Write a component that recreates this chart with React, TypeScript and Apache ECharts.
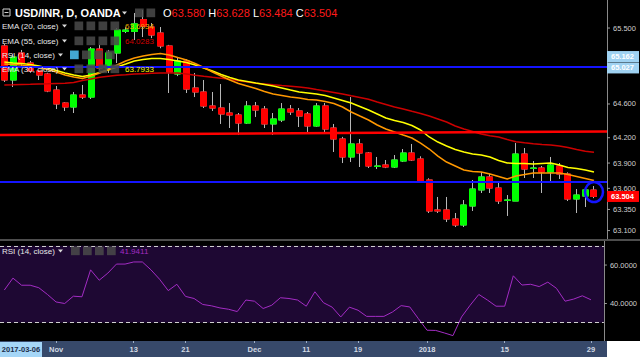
import React, { useEffect, useRef } from 'react';
import * as echarts from 'echarts';

const dates = [
  '2017-10-24', '2017-10-25', '2017-10-26', '2017-10-27', '2017-10-30', '2017-10-31', '2017-11-01', '2017-11-02', '2017-11-03', '2017-11-05',
  '2017-11-06', '2017-11-07', '2017-11-08', '2017-11-09', '2017-11-10', '2017-11-13', '2017-11-14', '2017-11-15', '2017-11-16', '2017-11-17',
  '2017-11-20', '2017-11-21', '2017-11-22', '2017-11-23', '2017-11-24', '2017-11-27', '2017-11-28', '2017-11-29', '2017-11-30', '2017-12-01',
  '2017-12-04', '2017-12-05', '2017-12-06', '2017-12-07', '2017-12-08', '2017-12-11', '2017-12-12', '2017-12-13', '2017-12-14', '2017-12-15',
  '2017-12-18', '2017-12-19', '2017-12-20', '2017-12-21', '2017-12-22', '2017-12-26', '2017-12-27', '2017-12-28', '2017-12-29', '2018-01-02',
  '2018-01-03', '2018-01-04', '2018-01-05', '2018-01-08', '2018-01-09', '2018-01-10', '2018-01-11', '2018-01-12', '2018-01-15', '2018-01-16',
  '2018-01-17', '2018-01-18', '2018-01-19', '2018-01-22', '2018-01-23', '2018-01-24', '2018-01-25', '2018-01-26', '2018-01-29', '2018-01-30',
];

const opens = [
  65.287, 64.884, 65.204, 65.085, 64.991, 64.955, 64.765, 64.611, 64.564, 64.706,
  64.682, 65.251, 65.026, 65.204, 65.46, 65.46, 65.6, 65.512, 65.441, 65.287,
  64.955, 65.109, 64.789, 64.742, 64.576, 64.552, 64.493, 64.469, 64.374, 64.576,
  64.54, 64.363, 64.41, 64.54, 64.517, 64.481, 64.339, 64.576, 64.315, 64.185,
  63.972, 64.126, 64.019, 63.86, 63.877, 63.853, 63.924, 64.019, 63.948, 63.699,
  63.344, 63.344, 63.237, 63.166, 63.391, 63.581, 63.735, 63.604, 63.458, 63.45,
  64.007, 63.837, 63.841, 63.794, 63.865, 63.77, 63.474, 63.509, 63.58,
];
const closes = [
  64.884, 65.156, 65.085, 64.991, 64.943, 64.754, 64.6, 64.564, 64.706, 64.682,
  65.251, 65.026, 65.204, 65.476, 65.476, 65.55, 65.52, 65.417, 65.287, 64.979,
  65.109, 64.777, 64.742, 64.576, 64.552, 64.481, 64.469, 64.374, 64.576, 64.528,
  64.363, 64.422, 64.54, 64.505, 64.457, 64.339, 64.576, 64.303, 64.185, 63.972,
  64.126, 64.019, 63.865, 63.865, 63.853, 63.936, 64.019, 63.936, 63.675, 63.332,
  63.332, 63.237, 63.166, 63.403, 63.592, 63.735, 63.604, 63.45, 63.462, 64.007,
  63.829, 63.841, 63.794, 63.877, 63.77, 63.474, 63.521, 63.581, 63.504,
];
const lows = [
  64.86, 64.801, 65.05, 64.97, 64.884, 64.74, 64.54, 64.517, 64.493, 64.659,
  64.659, 65.0, 64.967, 65.085, 65.44, 65.358, 65.393, 65.38, 65.26, 64.73,
  64.93, 64.73, 64.682, 64.552, 64.517, 64.363, 64.315, 64.232, 64.363, 64.446,
  64.315, 64.232, 64.386, 64.469, 64.327, 64.268, 64.33, 64.268, 64.031, 63.9,
  63.912, 63.853, 63.841, 63.829, 63.84, 63.841, 63.912, 63.924, 63.664, 63.308,
  63.308, 63.201, 63.142, 63.142, 63.332, 63.545, 63.545, 63.415, 63.273, 63.45,
  63.723, 63.723, 63.545, 63.675, 63.711, 63.45, 63.308, 63.379, 63.484,
];
const highs = [
  65.31, 65.19, 65.24, 65.11, 65.0, 64.97, 64.813, 64.62, 64.742, 64.825,
  65.275, 65.3, 65.24, 65.5, 65.51, 65.678, 65.713, 65.559, 65.512, 65.3,
  65.156, 65.13, 64.967, 64.884, 64.742, 64.836, 64.611, 64.493, 64.635, 64.623,
  64.576, 64.493, 64.611, 64.588, 64.552, 64.505, 64.611, 64.611, 64.363, 64.21,
  64.682, 64.185, 64.03, 63.972, 63.936, 63.995, 64.066, 64.126, 63.98, 63.72,
  63.498, 63.498, 63.308, 63.462, 63.699, 63.794, 63.77, 63.664, 63.521, 64.137,
  64.078, 63.924, 63.865, 63.972, 63.9, 63.79, 63.592, 63.616, 63.628,
];

const ema20 = [
  65.073, 65.068, 65.062, 65.05, 65.032, 65.008, 64.979, 64.943, 64.919, 64.902,
  64.931, 64.967, 65.008, 65.062, 65.109, 65.145, 65.168, 65.186, 65.198, 65.18,
  65.15, 65.121, 65.079, 65.032, 64.979, 64.931, 64.884, 64.842, 64.813, 64.783,
  64.748, 64.718, 64.7, 64.682, 64.671, 64.653, 64.647, 64.629, 64.605, 64.564,
  64.505, 64.457, 64.41, 64.351, 64.303, 64.268, 64.232, 64.197, 64.137, 64.066,
  63.983, 63.912, 63.865, 63.818, 63.8, 63.794, 63.77, 63.741, 63.711, 63.747,
  63.764, 63.782, 63.782, 63.782, 63.782, 63.764, 63.741, 63.717, 63.6934,
];
const ema30 = [
  65.097, 65.085, 65.079, 65.068, 65.05, 65.026, 64.996, 64.967, 64.943, 64.925,
  64.943, 64.973, 65.002, 65.038, 65.073, 65.109, 65.127, 65.139, 65.139, 65.127,
  65.109, 65.091, 65.062, 65.026, 64.991, 64.949, 64.914, 64.884, 64.866, 64.848,
  64.831, 64.813, 64.789, 64.765, 64.742, 64.73, 64.718, 64.7, 64.671, 64.641,
  64.611, 64.57, 64.528, 64.481, 64.434, 64.404, 64.38, 64.345, 64.292, 64.209,
  64.149, 64.102, 64.06, 64.031, 64.007, 63.995, 63.972, 63.93, 63.901, 63.895,
  63.895, 63.889, 63.895, 63.901, 63.877, 63.847, 63.835, 63.818, 63.7933,
];
const ema55 = [
  64.825, 64.828, 64.832, 64.834, 64.837, 64.84, 64.844, 64.847, 64.854, 64.878,
  64.896, 64.916, 64.928, 64.94, 64.947, 64.955, 64.959, 64.963, 64.967, 64.967,
  64.966, 64.955, 64.941, 64.928, 64.916, 64.905, 64.892, 64.874, 64.86, 64.846,
  64.837, 64.827, 64.818, 64.81, 64.802, 64.789, 64.771, 64.754, 64.736, 64.718,
  64.697, 64.677, 64.655, 64.623, 64.594, 64.564, 64.54, 64.513, 64.487, 64.457,
  64.422, 64.386, 64.339, 64.303, 64.274, 64.244, 64.223, 64.209, 64.179, 64.153,
  64.14, 64.128, 64.12, 64.114, 64.102, 64.084, 64.061, 64.039, 64.0283,
];
const rsi14 = [
  47.0, 53.2, 49.5, 49.5, 48.2, 44.7, 40.8, 40.0, 43.8, 43.5,
  57.5, 52.1, 55.8, 60.5, 60.5, 61.6, 61.6, 57.5, 52.6, 46.7,
  50.0, 43.7, 42.6, 39.5, 38.8, 37.7, 37.0, 35.8, 41.8, 41.2,
  37.4, 39.1, 43.0, 42.6, 41.8, 38.6, 46.1, 40.4, 38.1, 33.0,
  38.1, 36.5, 33.3, 33.3, 33.3, 35.6, 38.9, 38.2, 32.1, 26.1,
  26.0, 24.7, 23.3, 33.0, 39.1, 44.7, 41.8, 38.6, 38.6, 54.4,
  49.6, 50.0, 48.8, 51.1, 47.9, 41.2, 42.3, 44.0, 41.9411,
];

const xTickLabels: [string, string][] = [
  ['2017-11-01', 'Nov'], ['2017-11-13', '13'], ['2017-11-21', '21'], ['2017-12-01', 'Dec'],
  ['2017-12-11', '11'], ['2017-12-19', '19'], ['2018-01-02', '2018'], ['2018-01-15', '15'], ['2018-01-29', '29'],
];
const priceTicks = [65.5, 64.6, 64.2, 63.9, 63.6, 63.35, 63.1];
const rsiTicks = [60, 40];
const rsiBands = [70, 30];
const supportLines = [65.04, 63.68];
const trendLine = [64.232, 64.274];
const axisMarks = [65.162, 65.027];
const cursorDate = '2017-03-06';

const FONT = '"Liberation Sans", Arial, sans-serif';

export default function App() {
  const ref = useRef<HTMLDivElement>(null);

  useEffect(() => {
    const chart = echarts.init(ref.current!, null, { renderer: 'svg' });
    const last = opens.length - 1;
    const candles = opens.map((o, i) => [o, closes[i], lows[i], highs[i]]);
    const bodies = opens.map((o, i) => [o, closes[i], Math.min(o, closes[i]), Math.max(o, closes[i])]);
    const labelMap: Record<string, string> = {};
    xTickLabels.forEach(([d, t]) => (labelMap[d] = t));
    const isTick = (_i: number, v: string) => labelMap[v] !== undefined;
    const mkFmt = (ticks: number[], dec: number) => (v: number) => {
      const t = ticks.find((p) => Math.abs(p - v) < 1e-4);
      return t === undefined ? '' : `{t|}{v|${t.toFixed(dec)}}`;
    };
    const rich = {
      t: { width: 3, height: 1, backgroundColor: '#9a9a9a' },
      v: { color: '#cfcfcf', fontSize: 7.5, fontFamily: FONT, padding: [0, 0, 0, 3] },
    };
    const yBase = {
      type: 'value',
      position: 'right',
      splitLine: { show: false },
      axisTick: { show: false },
      axisLine: { show: true, lineStyle: { color: '#8a8a8a' } },
    };

    chart.setOption({
      animation: false,
      backgroundColor: '#000000',
      grid: [
        { left: -2, top: 0, width: 609, height: 239 },
        { left: -2, top: 241, width: 609, height: 100 },
      ],
      xAxis: [
        { type: 'category', gridIndex: 0, data: dates, show: false, boundaryGap: true },
        {
          type: 'category', gridIndex: 1, data: dates, boundaryGap: true, z: 10,
          axisLine: { show: false },
          axisTick: { show: true, interval: isTick, alignWithLabel: true, length: 2, lineStyle: { color: '#9fb0c8' } },
          axisLabel: {
            interval: isTick, formatter: (v: string) => labelMap[v] ?? '',
            color: '#d3dae4', fontSize: 7.5, fontWeight: 'bold', fontFamily: FONT, margin: 4,
          },
          splitLine: { show: false },
        },
      ],
      yAxis: [
        { ...yBase, gridIndex: 0, min: 63.0, max: 65.832, interval: 0.05, axisLabel: { formatter: mkFmt(priceTicks, 3), rich, margin: 0 } },
        { ...yBase, gridIndex: 1, min: 20.5, max: 72.5, interval: 0.5, axisLabel: { formatter: mkFmt(rsiTicks, 4), rich, margin: 0 } },
      ],
      series: [
        {
          type: 'candlestick', xAxisIndex: 0, yAxisIndex: 0, data: candles, barWidth: 6.5, silent: true,
          itemStyle: { color: 'rgba(0,0,0,0)', color0: 'rgba(0,0,0,0)', borderColor: '#b8b8b8', borderColor0: '#b8b8b8', borderWidth: 1 },
        },
        {
          type: 'candlestick', xAxisIndex: 0, yAxisIndex: 0, data: bodies, barWidth: 6.5, silent: true,
          itemStyle: { color: '#00ff00', color0: '#ff0000', borderColor: '#00ff00', borderColor0: '#ff0000', borderWidth: 1 },
        },
        {
          type: 'line', xAxisIndex: 0, yAxisIndex: 0, data: ema55, symbol: 'none', silent: true,
          lineStyle: { color: '#cc0000', width: 1.5 },
          markLine: {
            silent: true, symbol: ['none', 'none'], label: { show: false },
            lineStyle: { color: '#1414ff', width: 2, type: 'solid' },
            data: [{ yAxis: supportLines[0] }, { yAxis: supportLines[1] }],
          },
        },
        { type: 'line', xAxisIndex: 0, yAxisIndex: 0, data: ema30, symbol: 'none', silent: true, lineStyle: { color: '#ffff00', width: 1.5 } },
        { type: 'line', xAxisIndex: 0, yAxisIndex: 0, data: ema20, symbol: 'none', silent: true, lineStyle: { color: '#ff9800', width: 1.5 } },
        {
          type: 'line', xAxisIndex: 1, yAxisIndex: 1, data: rsi14, symbol: 'none', silent: true, z: 1,
          lineStyle: { opacity: 0 },
          markArea: { silent: true, itemStyle: { color: '#1e0833' }, data: [[{ yAxis: rsiBands[0] }, { yAxis: rsiBands[1] }]] },
        },
        {
          type: 'line', xAxisIndex: 1, yAxisIndex: 1, data: rsi14, symbol: 'none', silent: true, z: 3,
          lineStyle: { color: '#a32cc4', width: 1 },
          markLine: {
            silent: true, symbol: ['none', 'none'], label: { show: false },
            lineStyle: { color: '#cfcfcf', width: 1, type: [4, 3] },
            data: rsiBands.map((v) => ({ yAxis: v })),
          },
        },
      ],
    });

    const py = (v: number) => (chart.convertToPixel({ xAxisIndex: 0, yAxisIndex: 0 } as any, [last, v]) as number[]);
    const g: any[] = [];
    const txt = (x: number, y: number, text: string, fill: string, size: number, weight = 'normal', extra: any = {}) =>
      g.push({ type: 'text', x, y, z: 100, style: { text, fill, font: `${weight} ${size}px ${FONT}`, textVerticalAlign: 'middle', ...extra } });
    const box = (x: number, y: number, fill: string) =>
      g.push({ type: 'rect', z: 99, shape: { x, y, width: 8.7, height: 8.7 }, style: { fill, opacity: 0.85 } });
    const tri = (x: number, y: number) =>
      g.push({ type: 'polygon', z: 100, shape: { points: [[x, y], [x + 5, y], [x + 2.5, y + 3]] }, style: { fill: '#d8d8d8' } });

    // sloped red trend line across the whole price pane
    g.push({
      type: 'line', z: 40,
      shape: { x1: 0, y1: py(trendLine[0])[1], x2: 607, y2: py(trendLine[1])[1] },
      style: { stroke: '#ff0000', lineWidth: 2.5 },
    });

    // panes / frame
    g.push({ type: 'rect', z: 5, shape: { x: 0, y: 239, width: 640, height: 2 }, style: { fill: '#4d4d4d' } });
    g.push({ type: 'rect', z: 1, shape: { x: 0, y: 341, width: 607, height: 16 }, style: { fill: '#37496a' } });
    g.push({ type: 'rect', z: 1, shape: { x: 607, y: 341, width: 33, height: 16 }, style: { fill: '#ffffff' } });
    g.push({ type: 'rect', z: 20, shape: { x: 0, y: 342, width: 42, height: 15 }, style: { fill: '#a5d6f7' } });
    txt(21, 349.5, cursorDate, '#1c2d4a', 7.5, 'bold', { textAlign: 'center' });

    // title row
    g.push({ type: 'rect', z: 100, shape: { x: 3, y: 9, width: 7, height: 7 }, style: { fill: 'none', stroke: '#d0d0d0', lineWidth: 1 } });
    g.push({ type: 'line', z: 100, shape: { x1: 4.5, y1: 12.5, x2: 8.5, y2: 12.5 }, style: { stroke: '#d0d0d0', lineWidth: 1 } });
    txt(15, 13, 'USD/INR, D, OANDA', '#ffffff', 11, 'bold');
    tri(122, 11.5);
    box(135, 8.5, '#4a4a4a');
    box(146.5, 8.5, '#4a4a4a');
    const lastVals = [opens[last], highs[last], lows[last], closes[last]];
    txt(163, 13, `O{r|${lastVals[0].toFixed(3)}} H{r|${lastVals[1].toFixed(3)}} L{r|${lastVals[2].toFixed(3)}} C{r|${lastVals[3].toFixed(3)}}`, '#ffffff', 11, 'normal', {
      rich: { r: { fill: '#ff1a1a', fontSize: 11, fontFamily: FONT } },
    });

    // indicator legend rows
    const rows = [
      { name: 'EMA (20, close)', y: 26, val: ema20[last].toFixed(4), color: '#f0b000', bx: 74.5, tx: 62 },
      { name: 'EMA (55, close)', y: 41, val: ema55[last].toFixed(4), color: '#d00000', bx: 74.5, tx: 62 },
      { name: 'RSI (14, close)', y: 55, val: '', color: '', bx: 70, tx: 58 },
      { name: 'EMA (30, close)', y: 69, val: ema30[last].toFixed(4), color: '#ffff00', bx: 74.5, tx: 62 },
    ];
    rows.forEach((r, k) => {
      txt(2, r.y, r.name, '#e8e8e8', 8);
      tri(r.tx, r.y - 1.5);
      for (let j = 0; j < 4; j++) box(r.bx + j * 12, r.y - 4.5, k === 2 && j === 0 ? '#4fc3f7' : '#4a4a4a');
      if (r.val) txt(125, r.y, r.val, r.color, 8);
    });

    // RSI pane legend
    txt(2, 251, 'RSI (14, close)', '#e8e8e8', 8);
    tri(58, 249.5);
    for (let j = 0; j < 4; j++) box(71 + j * 12, 246.5, '#4a4a4a');
    txt(120, 251, rsi14[last].toFixed(4), '#a32cc4', 8);

    // price axis highlight boxes
    axisMarks.forEach((v) => {
      const y = py(v)[1];
      g.push({ type: 'rect', z: 30, shape: { x: 607, y: y - 5.5, width: 32, height: 11 }, style: { fill: '#9fd2f2' } });
      txt(611, y, v.toFixed(3), '#ffffff', 7.5, 'bold');
    });
    const ly = py(closes[last])[1];
    g.push({ type: 'rect', z: 30, shape: { x: 607, y: ly - 5.5, width: 32, height: 11 }, style: { fill: '#ff0000' } });
    txt(611, ly, closes[last].toFixed(3), '#ffffff', 7.5, 'bold');

    // circle around last candle
    const c = py((highs[last] + lows[last]) / 2);
    g.push({ type: 'ellipse', z: 50, shape: { cx: c[0], cy: c[1], rx: 9, ry: 10 }, style: { fill: 'none', stroke: '#1414ff', lineWidth: 2.5 } });

    chart.setOption({ graphic: g });
    return () => chart.dispose();
  }, []);

  return <div ref={ref} style={{ position: 'fixed', left: 0, top: 0, width: 640, height: 357 }} />;
}
